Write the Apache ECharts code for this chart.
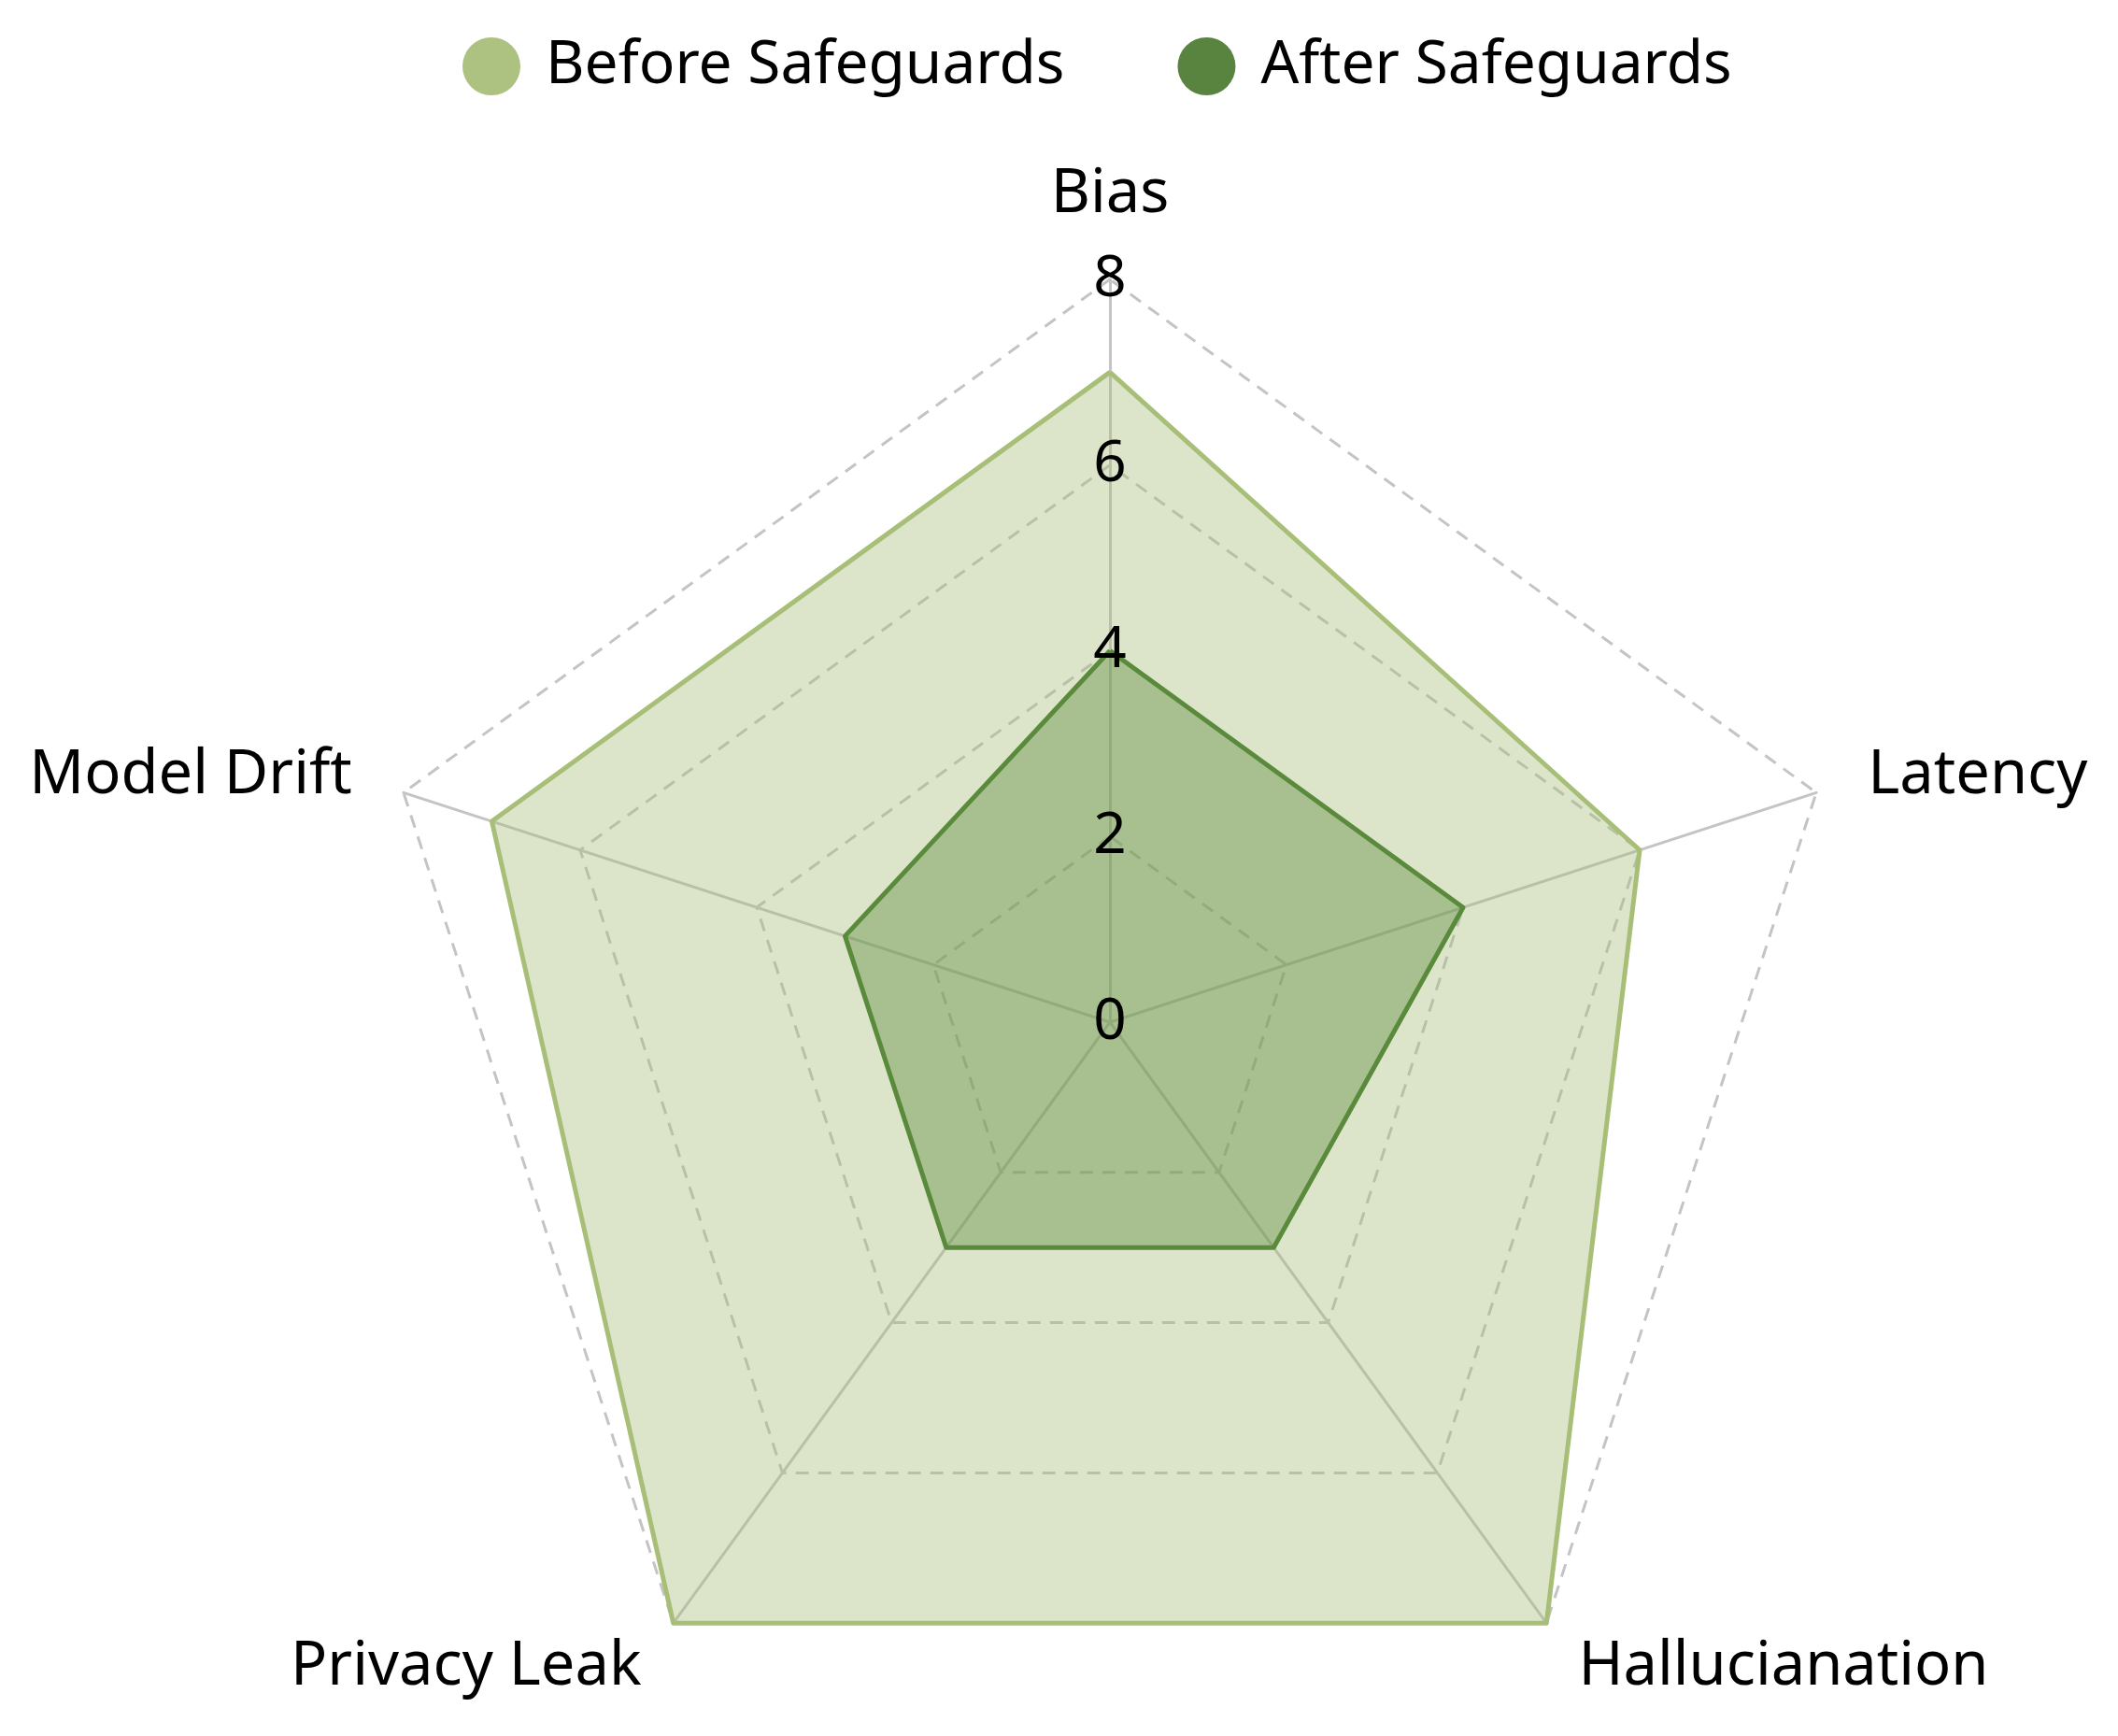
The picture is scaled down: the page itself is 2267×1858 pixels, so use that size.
<!DOCTYPE html>
<html lang="en">
<head>
    <meta charset="UTF-8">
    <title>Safeguards radar</title>
    <style>
        *{margin: 0; padding: 0;}
        body,html{width: 100%; height: 100%; background: #fff;}
        #chart{width: 2267px; height: 1858px;}
    </style>
</head>
<body>
<div id="chart"></div>
<script src="https://cdn.jsdelivr.net/npm/echarts@6/dist/echarts.min.js"></script>
<script>
// indicators listed counter-clockwise from the top
var axisNames = ['Bias', 'Model Drift', 'Privacy Leak', 'Hallucianation', 'Latency'];
var axisMax = 8;
var beforeValues = [7, 7, 8, 8, 6];
var afterValues = [4, 3, 3, 3, 4];
var seriesNames = ['Before Safeguards', 'After Safeguards'];

var font = 'Noto Sans';
var center = [1188, 1094];
var radius = 795;

var indicators = [];
var labelIndicators = [];
for (let i = 0; i < axisNames.length; i++) {
    indicators.push({ name: axisNames[i], max: axisMax, min: 0 });
    let ind = { name: '', max: axisMax, min: 0 };
    if (i === 0) {
        // tick numbers only on the top axis
        ind.axisLabel = {
            show: true,
            margin: 0,
            align: 'center',
            verticalAlign: 'middle',
            color: '#000',
            fontSize: 62,
            fontFamily: font
        };
    }
    labelIndicators.push(ind);
}

var option = {
    animation: false,
    legend: {
        top: 34,
        left: 490,
        itemWidth: 62,
        itemHeight: 62,
        itemGap: 121,
        icon: 'circle',
        textStyle: {
            fontSize: 64,
            fontFamily: font,
            color: '#000',
            padding: [0, 0, 0, 22]
        },
        data: seriesNames
    },
    radar: [{
        center: center,
        radius: radius,
        startAngle: 90,
        splitNumber: 4,
        shape: 'polygon',
        indicator: indicators,
        axisName: {
            color: '#000',
            fontSize: 65,
            fontFamily: font
        },
        nameGap: 58,
        axisLabel: { show: false },
        axisTick: { show: false },
        axisLine: {
            lineStyle: { color: '#c4c4c4', width: 3, type: 'solid' }
        },
        splitLine: {
            lineStyle: { color: '#c4c4c4', width: 3, type: [14, 10] }
        },
        splitArea: { show: false }
    }, {
        // overlay radar carrying only the tick numbers, drawn above the fills
        z: 10,
        center: center,
        radius: radius,
        startAngle: 90,
        splitNumber: 4,
        shape: 'polygon',
        indicator: labelIndicators,
        axisName: { show: false },
        axisLabel: { show: false },
        axisTick: { show: false },
        axisLine: { show: false },
        splitLine: { show: false },
        splitArea: { show: false }
    }],
    series: [{
        type: 'radar',
        radarIndex: 0,
        symbol: 'none',
        data: [
            {
                name: seriesNames[0],
                value: beforeValues,
                itemStyle: { color: '#adc181' },
                lineStyle: { color: '#a8bf78', width: 5 },
                areaStyle: { color: '#a8bf78', opacity: 0.4 }
            },
            {
                name: seriesNames[1],
                value: afterValues,
                itemStyle: { color: '#58843f' },
                lineStyle: { color: '#5a8a3c', width: 5 },
                areaStyle: { color: '#5a8a3c', opacity: 0.4 }
            }
        ]
    }]
};

var myChart = echarts.init(document.getElementById('chart'));
myChart.setOption(option);
</script>
</body>
</html>
